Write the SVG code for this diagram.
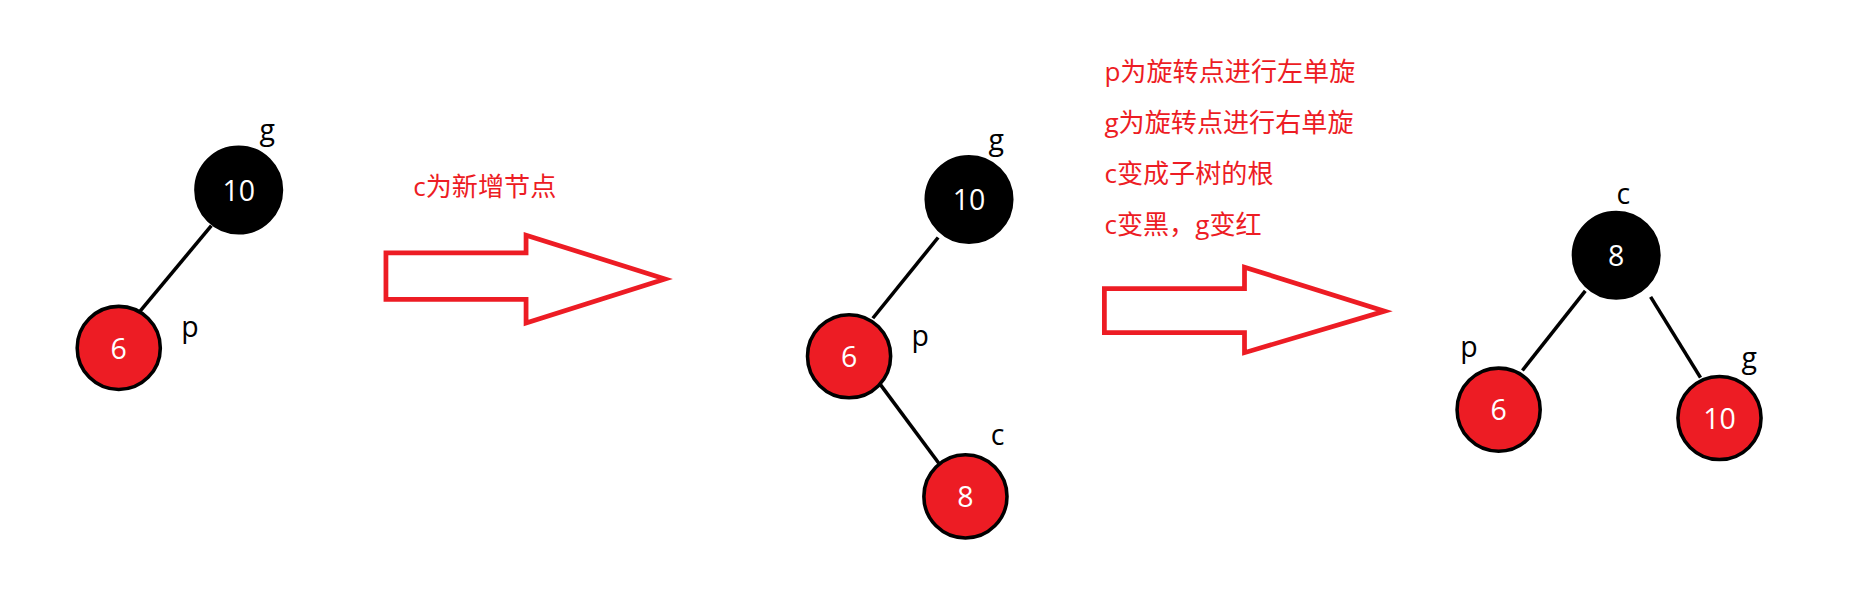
<svg xmlns="http://www.w3.org/2000/svg" width="1862" height="595" viewBox="0 0 1862 595">
<style>
.b{fill:#000;stroke:#000;stroke-width:3}
.r{fill:#ed1c24;stroke:#000;stroke-width:3}
.n{font-family:"Open Sans","Liberation Sans",sans-serif;font-size:24px;fill:#fff;text-anchor:middle}
.l{font-family:"Open Sans","Liberation Sans",sans-serif;font-size:24px;fill:#000;text-anchor:middle}
.t{font-family:"Open Sans","Noto Sans CJK SC",sans-serif;font-size:22px;fill:#ed1c24}
.e{stroke:#000;stroke-width:3}
.a{fill:#fff;stroke:#ed1c24;stroke-width:4}
</style>
<rect width="1862" height="595" fill="#fff"/>
<g transform="scale(1.1875)">
<g id="connectors">
<line class="e" x1="178" y1="190" x2="118" y2="262"/>
<line class="e" x1="790" y1="200" x2="735" y2="268"/>
<line class="e" x1="740" y1="322" x2="792" y2="392"/>
<line class="e" x1="1335" y1="245" x2="1282" y2="312"/>
<line class="e" x1="1390" y1="250" x2="1432" y2="318"/>
<polygon class="a" points="325,213 443,213 443,198 560,235 443,272 443,252 325,252"/>
<polygon class="a" points="930,243 1048,243 1048,225 1166,262 1048,297 1048,280 930,280"/>
</g>
<g id="n1"><circle class="b" cx="201" cy="160" r="36"/><text class="n" x="201" y="169">10</text><text class="l" x="225" y="118">g</text></g>
<g id="n2"><circle class="r" cx="100" cy="293" r="35"/><text class="n" x="100" y="302">6</text><text class="l" x="160" y="284">p</text></g>
<g id="n3"><circle class="b" cx="816" cy="168" r="36"/><text class="n" x="816" y="177">10</text><text class="l" x="839" y="126">g</text></g>
<g id="n4"><circle class="r" cx="715" cy="300" r="35"/><text class="n" x="715" y="309">6</text><text class="l" x="775" y="291">p</text></g>
<g id="n5"><circle class="r" cx="813" cy="418" r="35"/><text class="n" x="813" y="427">8</text><text class="l" x="840" y="375">c</text></g>
<g id="n6"><circle class="b" cx="1361" cy="215" r="36"/><text class="n" x="1361" y="224">8</text><text class="l" x="1367" y="172">c</text></g>
<g id="n7"><circle class="r" cx="1262" cy="345" r="35"/><text class="n" x="1262" y="354">6</text><text class="l" x="1237" y="301">p</text></g>
<g id="n8"><circle class="r" cx="1448" cy="352" r="35"/><text class="n" x="1448" y="361">10</text><text class="l" x="1473" y="310">g</text></g>
<g id="labels">
<text class="t" x="348" y="165">c为新增节点</text>
<text class="t" x="930" y="68">p为旋转点进行左单旋</text>
<text class="t" x="930" y="111">g为旋转点进行右单旋</text>
<text class="t" x="930" y="154">c变成子树的根</text>
<text class="t" x="930" y="197">c变黑，g变红</text>
</g>
</g>
</svg>
